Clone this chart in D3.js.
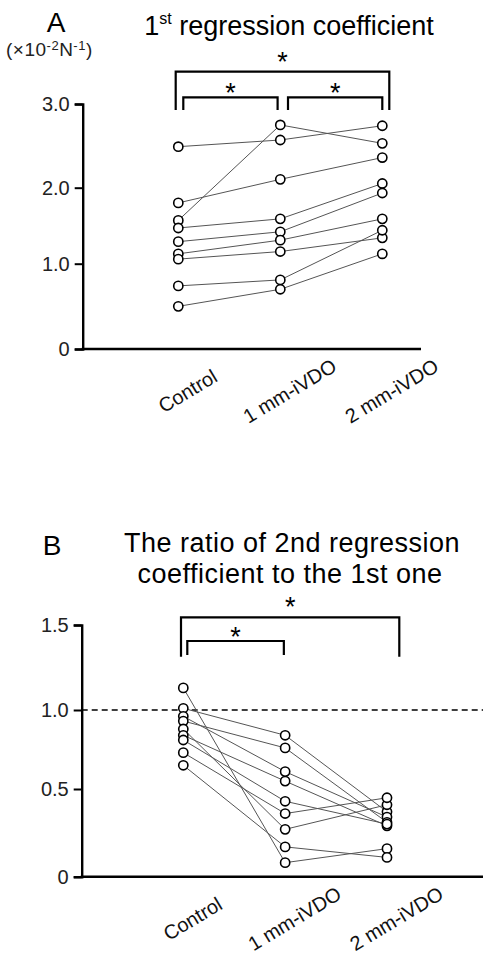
<!DOCTYPE html>
<html>
<head>
<meta charset="utf-8">
<script src="https://cdn.jsdelivr.net/npm/d3@7"></script>
<style>
  body { margin: 0; background: #fff; }
  svg { display: block; font-family: "Liberation Sans", Arial, sans-serif; }
</style>
</head>
<body>
<div class="fig"></div>
<script>
var W = 483, H = 954;

var groups = ["Control", "1 mm-iVDO", "2 mm-iVDO"];

// panel A: 1st regression coefficient (x10^-2 N^-1), one entry per subject
var coefControl = [2.49, 1.57, 1.80, 1.47, 1.29, 1.13, 1.06, 0.74, 0.50];
var coef1mm     = [2.57, 2.75, 2.10, 1.59, 1.42, 1.31, 1.16, 0.81, 0.70];
var coef2mm     = [2.74, 2.53, 2.36, 2.05, 1.93, 1.59, 1.34, 1.44, 1.13];
var coefTicks = [0, 1, 2, 3];
var coefTickLabels = ["0", "1.0", "2.0", "3.0"];

// panel B: ratio of 2nd to 1st regression coefficient
var ratioControl = [1.13, 1.01, 0.96, 0.93, 0.88, 0.84, 0.81, 0.73, 0.65];
var ratio1mm     = [0.08, 0.84, 0.61, 0.76, 0.27, 0.55, 0.43, 0.36, 0.17];
var ratio2mm     = [0.16, 0.37, 0.34, 0.31, 0.41, 0.29, 0.30, 0.45, 0.11];
var ratioTicks = [0, 0.5, 1, 1.5];
var ratioTickLabels = ["0", "0.5", "1.0", "1.5"];

// significance brackets: [from group, to group, level]
var sigA = [[0, 2, 0], [0, 1, 1], [1, 2, 1]];
var sigB = [[0, 2, 0], [0, 1, 1]];

var svg = d3.select(".fig").append("svg")
  .attr("width", W)
  .attr("height", H);

function panel(opt) {
  var g = svg.append("g");
  var x = d3.scalePoint().domain(groups).range(opt.xr);
  // axis in the original is not perfectly even, so map each tick
  var y = d3.scaleLinear().domain(opt.ticks).range(opt.yr);

  var subjects = opt.series[0].map(function (d, i) {
    return opt.series.map(function (s, j) { return [groups[j], s[i]]; });
  });

  if (opt.refLine != null) {
    g.append("line")
      .attr("x1", opt.axisX).attr("x2", opt.xEnd)
      .attr("y1", y(opt.refLine)).attr("y2", y(opt.refLine))
      .attr("stroke", "#000").attr("stroke-width", 1.6)
      .attr("stroke-dasharray", "6,4");
  }

  var line = d3.line()
    .x(function (d) { return x(d[0]); })
    .y(function (d) { return y(d[1]); });

  g.selectAll("path.subj")
    .data(subjects)
    .join("path")
    .attr("class", "subj")
    .attr("d", line)
    .attr("fill", "none")
    .attr("stroke", "#555")
    .attr("stroke-width", 1);

  g.selectAll("circle")
    .data(subjects.flat())
    .join("circle")
    .attr("cx", function (d) { return x(d[0]); })
    .attr("cy", function (d) { return y(d[1]); })
    .attr("r", 4.6)
    .attr("fill", "#fff")
    .attr("stroke", "#000")
    .attr("stroke-width", 1.6);

  // y axis
  var yAxis = d3.axisLeft(y)
    .tickValues(opt.ticks)
    .tickFormat(function (d, i) { return opt.tickLabels[i]; })
    .tickSize(8)
    .tickPadding(5);
  var ya = g.append("g")
    .attr("transform", "translate(" + opt.axisX + ",0)")
    .call(yAxis);
  ya.select(".domain").attr("stroke-width", 2.4);
  ya.selectAll(".tick line").attr("stroke-width", 2);
  ya.selectAll(".tick text")
    .attr("font-size", 20)
    .attr("font-family", "Liberation Sans, Arial, sans-serif")
    .attr("fill", "#222");

  // x axis baseline
  g.append("line")
    .attr("x1", opt.axisX - 1).attr("x2", opt.xEnd)
    .attr("y1", y(0)).attr("y2", y(0))
    .attr("stroke", "#000").attr("stroke-width", 2.6);

  g.selectAll("text.cat")
    .data(groups)
    .join("text")
    .attr("class", "cat")
    .attr("transform", function (d) {
      return "translate(" + (x(d) + 13) + "," + (y(0) + 48) + ") rotate(-31)";
    })
    .attr("text-anchor", "middle")
    .attr("font-size", 20)
    .attr("fill", "#111")
    .text(function (d) { return d; });

  // brackets
  opt.sig.forEach(function (s) {
    var lv = opt.levels[s[2]];
    var x1 = x(groups[s[0]]) + opt.offs[s[2]][s[0]][0];
    var x2 = x(groups[s[1]]) + opt.offs[s[2]][s[1]][1];
    g.append("path")
      .attr("d", "M" + x1 + "," + lv.bottom + "V" + lv.top + "H" + x2 + "V" + lv.bottom)
      .attr("fill", "none")
      .attr("stroke", "#000")
      .attr("stroke-width", 2.2);
    g.append("text")
      .attr("x", (x1 + x2) / 2)
      .attr("y", lv.top + lv.star)
      .attr("text-anchor", "middle")
      .attr("font-size", 27)
      .text("*");
  });

  return g;
}

panel({
  series: [coefControl, coef1mm, coef2mm],
  ticks: coefTicks,
  tickLabels: coefTickLabels,
  xr: [178.3, 382.3],
  yr: [349, 263.7, 187.7, 104],
  axisX: 82.7,
  xEnd: 421,
  sig: sigA,
  levels: [{ top: 71.7, bottom: 110, star: -0.5 }, { top: 97.3, bottom: 110, star: 5 }],
  // per level, per group: [offset when bracket starts here, offset when it ends here]
  offs: [
    [[-2.6, 0], [0, 0], [0, 7]],
    [[5, 0], [7.7, -2.7], [0, 0]]
  ]
});

panel({
  series: [ratioControl, ratio1mm, ratio2mm],
  ticks: ratioTicks,
  tickLabels: ratioTickLabels,
  xr: [183.3, 387],
  yr: [876.7, 789, 710, 625],
  axisX: 81.7,
  xEnd: 483,
  refLine: 1,
  sig: sigB,
  levels: [{ top: 617.3, bottom: 656.7, star: -1 }, { top: 641, bottom: 655, star: 5 }],
  offs: [
    [[-2.3, 0], [0, 0], [0, 12.3]],
    [[4, 0], [0, -1.3], [0, 0]]
  ]
});

// titles and labels
svg.append("text")
  .attr("x", 56).attr("y", 32)
  .attr("text-anchor", "middle")
  .attr("font-size", 28)
  .text("A");

var tA = svg.append("text")
  .attr("x", 289).attr("y", 35)
  .attr("text-anchor", "middle")
  .attr("font-size", 27);
tA.append("tspan").text("1");
tA.append("tspan").attr("font-size", 16).attr("dy", -11).text("st");
tA.append("tspan").attr("dy", 11).text(" regression  coefficient");

var u = svg.append("text")
  .attr("x", 6).attr("y", 56)
  .attr("font-size", 19)
  .attr("letter-spacing", 0.5)
  .attr("fill", "#222");
u.append("tspan").text("(\u00d710");
u.append("tspan").attr("font-size", 13).attr("dy", -6).text("-2");
u.append("tspan").attr("dy", 6).text("N");
u.append("tspan").attr("font-size", 13).attr("dy", -6).text("-1");
u.append("tspan").attr("dy", 6).text(")");

svg.append("text")
  .attr("x", 52).attr("y", 555)
  .attr("text-anchor", "middle")
  .attr("font-size", 28)
  .text("B");

svg.append("text")
  .attr("x", 292).attr("y", 552)
  .attr("text-anchor", "middle")
  .attr("font-size", 27)
  .attr("letter-spacing", 0.5)
  .text("The ratio of 2nd regression");
svg.append("text")
  .attr("x", 290).attr("y", 583)
  .attr("text-anchor", "middle")
  .attr("font-size", 27)
  .attr("letter-spacing", 0.5)
  .text("coefficient to the 1st one");
</script>
</body>
</html>
